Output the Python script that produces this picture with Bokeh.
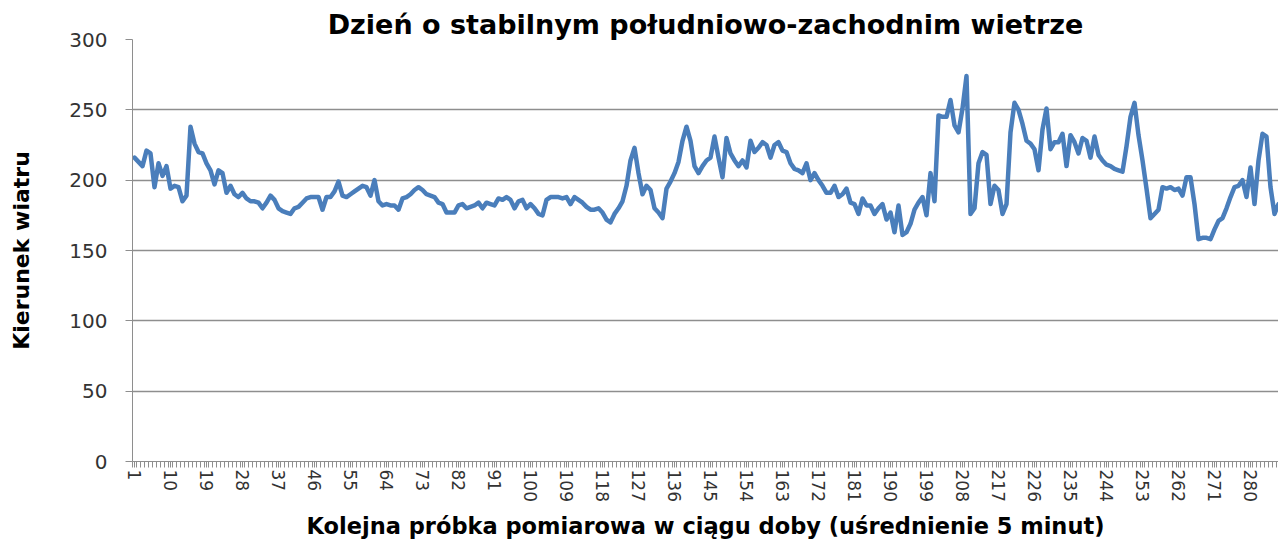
from bokeh.plotting import figure
from bokeh.models import ColumnDataSource, FixedTicker, Range1d
from bokeh.embed import file_html
from bokeh.resources import INLINE

title_text = "Dzień o stabilnym południowo-zachodnim wietrze"
x_title = "Kolejna próbka pomiarowa w ciągu doby (uśrednienie 5 minut)"
y_title = "Kierunek wiatru"

samples = list(range(1, 289))
direction = [
    216, 213, 210, 221, 219, 195, 212, 203, 210, 194,
    196, 195, 185, 189, 238, 226, 220, 219, 212, 207,
    197, 207, 205, 191, 196, 190, 188, 191, 187, 185,
    185, 184, 180, 184, 189, 186, 180, 178, 177, 176,
    180, 181, 184, 187, 188, 188, 188, 179, 188, 188,
    192, 199, 189, 188, 190, 192, 194, 196, 195, 189,
    200, 185, 182, 183, 182, 182, 179, 187, 188, 190,
    193, 195, 193, 190, 189, 188, 184, 183, 177, 177,
    177, 182, 183, 180, 181, 182, 184, 180, 184, 183,
    182, 187, 186, 188, 186, 180, 185, 186, 180, 183,
    180, 176, 175, 186, 188, 188, 188, 187, 188, 183,
    188, 186, 184, 181, 179, 179, 180, 177, 172, 170,
    176, 180, 185, 196, 214, 223, 205, 190, 196, 193,
    180, 177, 173, 194, 199, 205, 213, 228, 238, 228,
    210, 205, 210, 214, 216, 231, 216, 202, 230, 219,
    214, 210, 214, 209, 228, 220, 223, 227, 225, 216,
    225, 227, 221, 220, 212, 208, 207, 205, 212, 200,
    205, 200, 196, 191, 191, 196, 188, 190, 194, 184,
    183, 176, 187, 182, 182, 176, 180, 183, 172, 177,
    163, 182, 161, 163, 169, 179, 184, 188, 175, 205,
    185, 246, 245, 245, 257, 239, 234, 251, 274, 176,
    180, 212, 220, 218, 183, 196, 193, 176, 183, 234,
    255, 250, 240, 228, 226, 222, 207, 236, 251, 222,
    227, 227, 233, 210, 232, 227, 219, 230, 228, 216,
    231, 218, 214, 211, 210, 208, 207, 206, 224, 245,
    255, 232, 214, 194, 173, 176, 179, 195, 194, 195,
    193, 194, 189, 202, 202, 183, 158, 159, 159, 158,
    165, 171, 173, 180, 188, 195, 196, 200, 188, 209,
    183, 214, 233, 231, 195, 176, 183, 185,
]
label_samples = samples[::9]
y_ticks = [0, 50, 100, 150, 200, 250, 300]

src = ColumnDataSource(dict(x=samples, y=direction))

p = figure(width=1278, height=541, output_backend="svg", toolbar_location=None,
           x_range=Range1d(0.5, 287.0), y_range=Range1d(0, 300),
           min_border_left=132, min_border_right=0, min_border_top=39,
           min_border_bottom=79)
p.outline_line_color = None
p.background_fill_color = "white"
p.border_fill_color = "white"

p.line("x", "y", source=src, line_color="#4a7ebb", line_width=4.5,
       line_join="round", line_cap="round")

font = "DejaVu Sans"
grey = "#8e8e8e"

p.title.text = title_text
p.title.align = "center"
p.title.text_font = font
p.title.text_font_style = "bold"
p.title.text_font_size = "27px"
p.title.text_color = "black"
p.title.standoff = 0
p.title.offset = 0

xa = p.xaxis[0]
xa.ticker = FixedTicker(ticks=label_samples,
                        minor_ticks=[s - 0.5 for s in samples] + [samples[-1] + 0.5])
xa.major_label_orientation = "vertical"
xa.major_label_text_font = font
xa.major_label_text_font_size = "17px"
xa.major_label_text_color = "#333333"
xa.major_tick_in = 0
xa.major_tick_out = 6
xa.major_tick_line_color = grey
xa.minor_tick_in = 0
xa.minor_tick_out = 6
xa.minor_tick_line_color = grey
xa.axis_line_color = grey
xa.major_label_standoff = 2
xa.axis_label = x_title
xa.axis_label_text_font = font
xa.axis_label_text_font_style = "bold"
xa.axis_label_text_font_size = "22.5px"
xa.axis_label_text_color = "black"
xa.axis_label_standoff = 8

ya = p.yaxis[0]
ya.ticker = FixedTicker(ticks=y_ticks)
ya.major_label_text_font = font
ya.major_label_text_font_size = "20px"
ya.major_label_text_color = "#333333"
ya.major_tick_in = 0
ya.major_tick_out = 7
ya.major_tick_line_color = grey
ya.minor_tick_line_color = None
ya.axis_line_color = grey
ya.major_label_standoff = 18
ya.axis_label = y_title
ya.axis_label_text_font = font
ya.axis_label_text_font_style = "bold"
ya.axis_label_text_font_size = "22px"
ya.axis_label_text_color = "black"
ya.axis_label_standoff = 32

p.xgrid.grid_line_color = None
p.ygrid.grid_line_color = grey
p.ygrid.grid_line_width = 1.5

open("out.html", "w").write(file_html(p, INLINE))
